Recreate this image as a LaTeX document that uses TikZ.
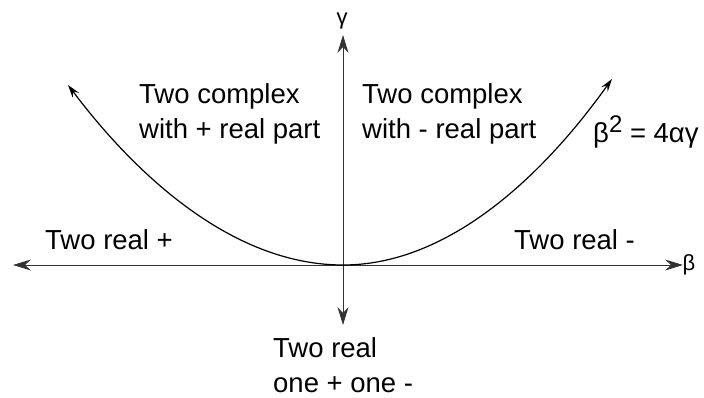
\documentclass[tikz,border=0pt]{standalone}
\usepackage{fontspec}
\setmainfont{Liberation Sans}
\usetikzlibrary{arrows.meta}

\begin{document}
\begin{tikzpicture}[x=1pt,y=-1pt,
  lbl/.style={font=\fontsize{27.5}{35}\selectfont,align=left,inner sep=0pt},
  axlbl/.style={font=\fontsize{22}{24}\selectfont,inner sep=0pt},
  axis/.style={line width=1pt,draw=black!80,{Stealth[length=18pt,width=11pt,inset=6pt]}-{Stealth[length=18pt,width=11pt,inset=6pt]}},
  curve/.style={line width=1.2pt,{Stealth[length=13pt,width=8pt,inset=5pt]}-{Stealth[length=13pt,width=8pt,inset=5pt]}}]
  \useasboundingbox (0,0) rectangle (704,398);
  % axes
  \coordinate (O) at (343,265);
  \coordinate (xl) at (13,265); \coordinate (xr) at (683,265);
  \coordinate (yt) at (343,35); \coordinate (yb) at (343,325);
  \draw[axis] (xl) -- (xr); \draw[axis] (yb) -- (yt);
  \node[axlbl] (beta) at (689,265) {β};
  \node[axlbl] (gamma) at (342,21) {γ};
  % the parabola beta^2 = 4 alpha gamma
  \coordinate (pl) at (68,85); \coordinate (pr) at (612,79);
  \draw[curve] (pl) parabola bend (O) (pr);
  \node[lbl,anchor=base west] (eq) at (593,143) {β\raisebox{10pt}{\fontsize{24}{24}\selectfont 2} = 4αγ};
  % regions
  \node[lbl,anchor=north west] (cplus) at (139,83) {Two complex\\with + real part};
  \node[lbl,anchor=north west] (cminus) at (362,83) {Two complex\\with - real part};
  \node[lbl,anchor=base west] (rplus) at (45,250) {Two real +};
  \node[lbl,anchor=base west] (rminus) at (514,250) {Two real -};
  \node[lbl,anchor=north west] (rmix) at (273,337) {Two real\\one + one -};
\end{tikzpicture}
\end{document}
